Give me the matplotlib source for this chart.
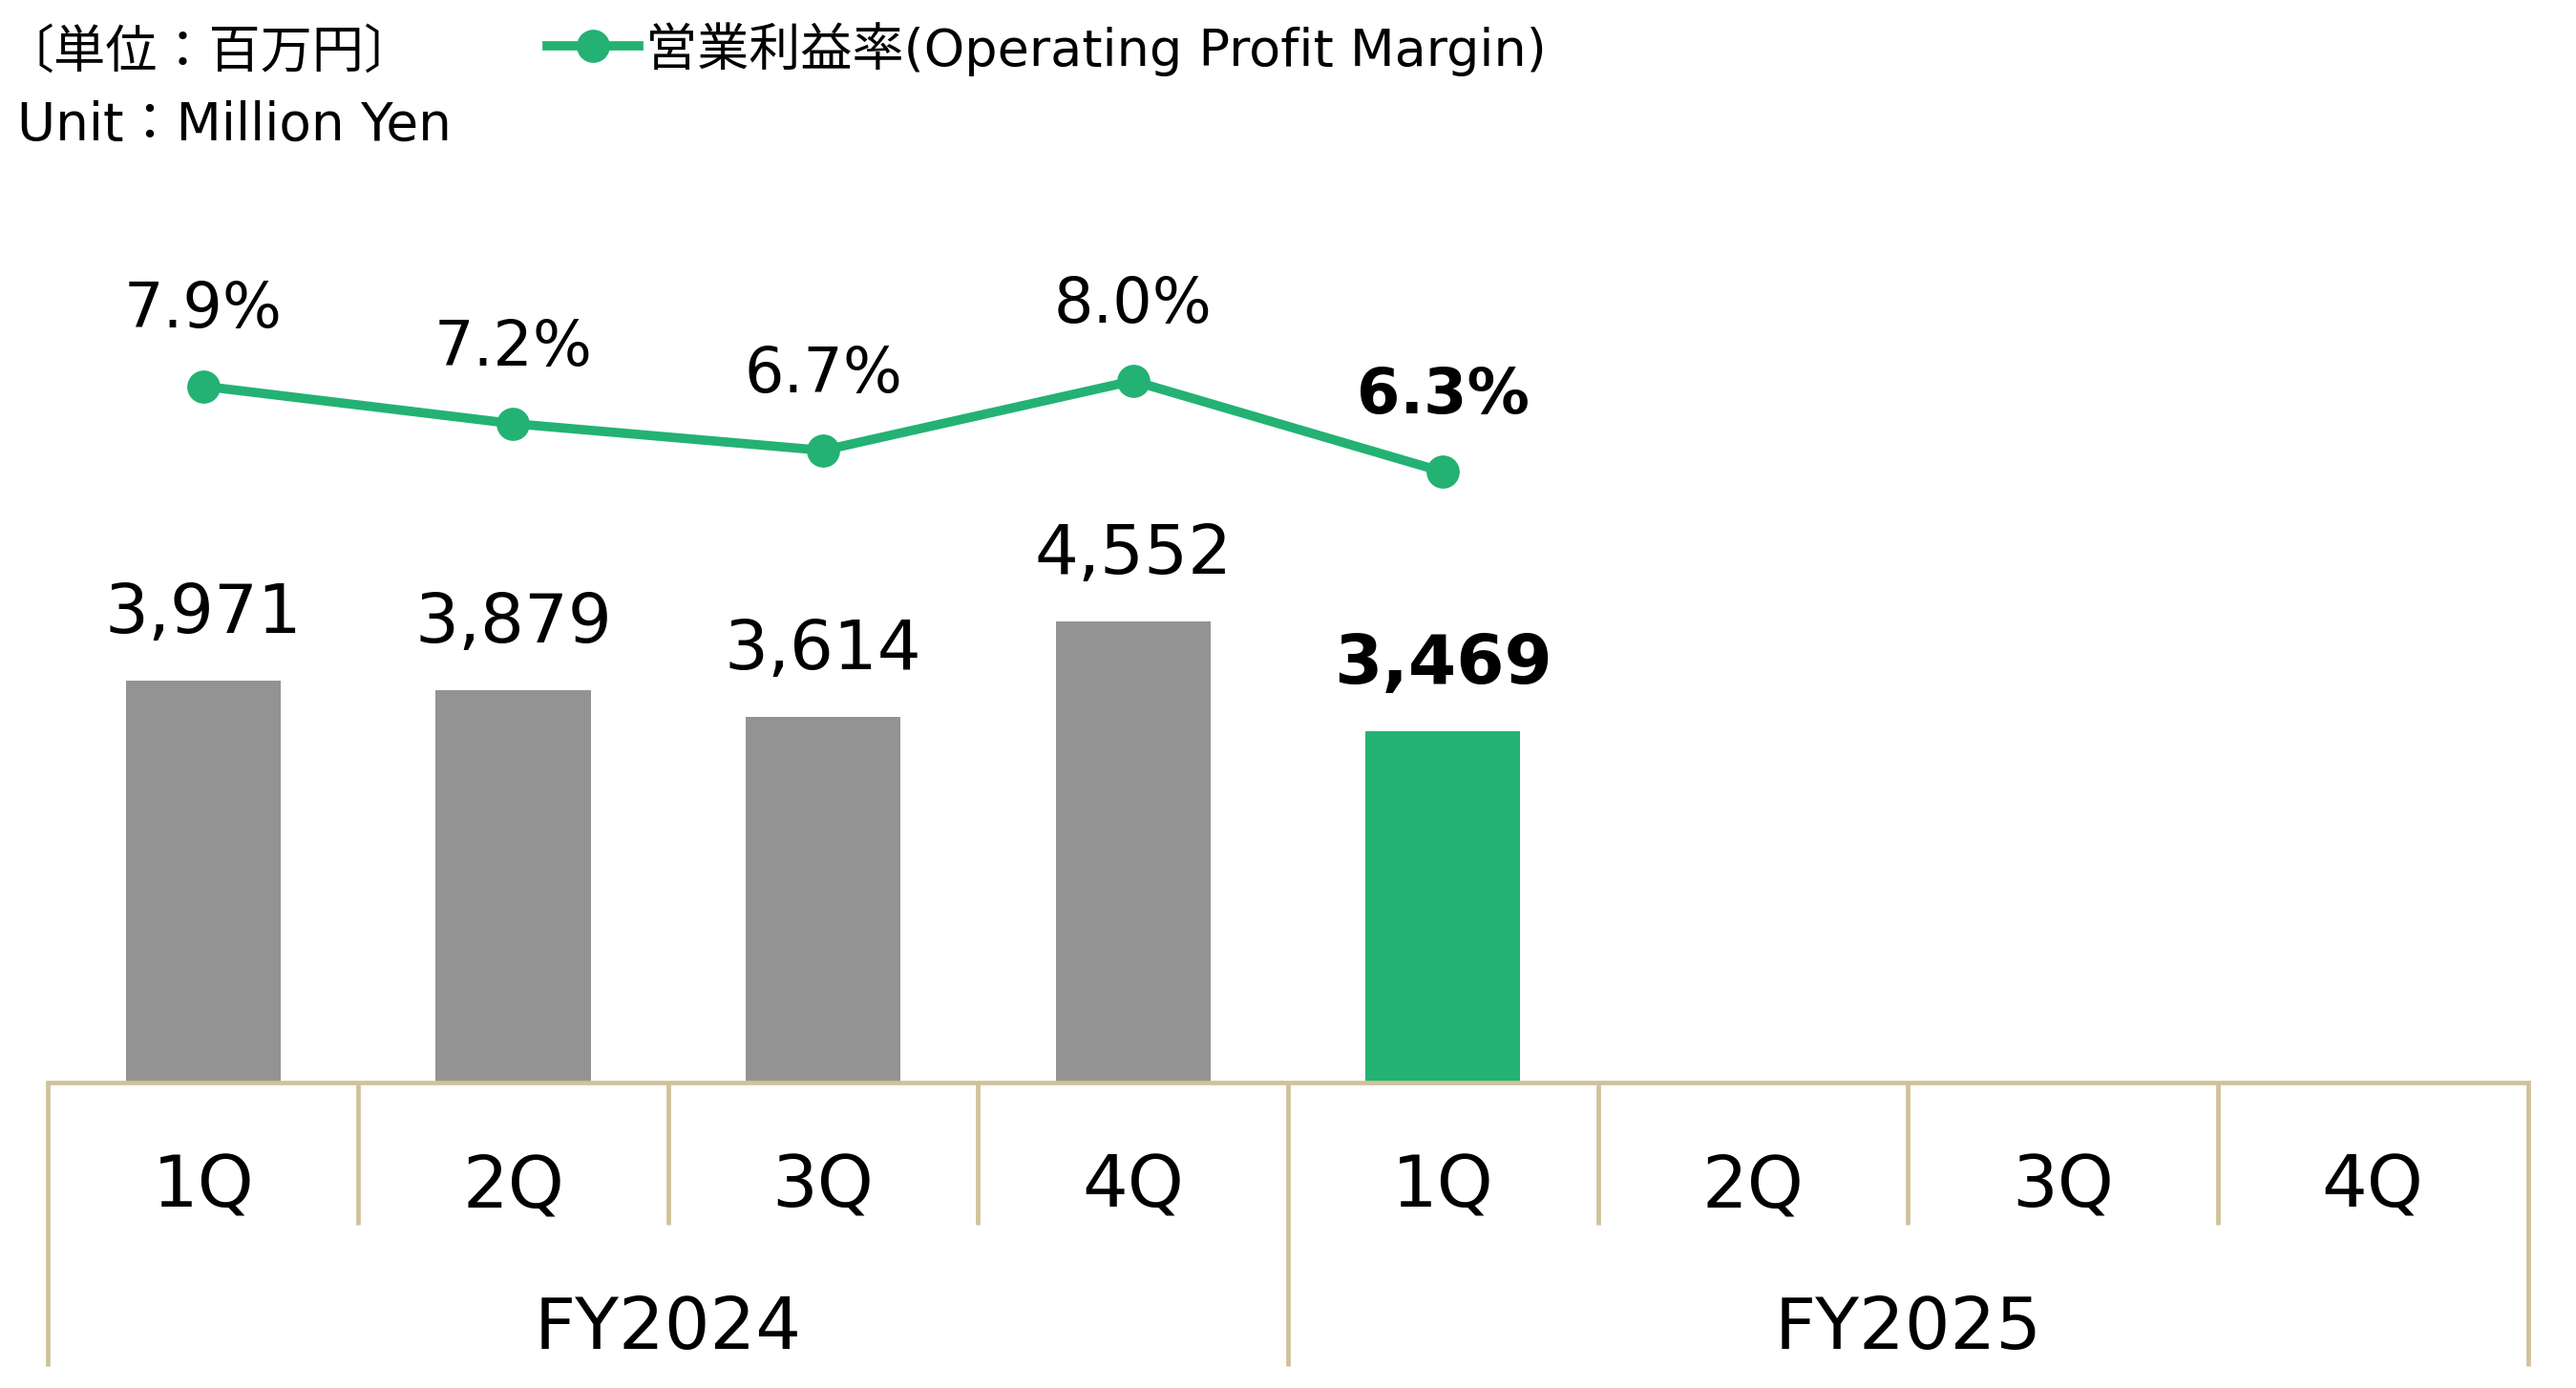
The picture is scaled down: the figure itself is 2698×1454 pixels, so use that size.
import matplotlib
matplotlib.use("Agg")
import matplotlib.pyplot as plt
from matplotlib.lines import Line2D

plt.rcParams["font.family"] = ["DejaVu Sans", "Noto Sans CJK JP"]

# data
quarters = ["1Q", "2Q", "3Q", "4Q", "1Q", "2Q", "3Q", "4Q"]
fiscal_years = ["FY2024", "FY2025"]
operating_profit = [3971, 3879, 3614, 4552, 3469]
profit_margin = [7.9, 7.2, 6.7, 8.0, 6.3]
unit_text = ["〔単位：百万円〕", "Unit：Million Yen"]
legend_label = "営業利益率(Operating Profit Margin)"

GRAY = "#939393"
GREEN = "#23B273"
TAN = "#CFC29B"

W, H = 2698, 1454
fig = plt.figure(figsize=(W / 100, H / 100), dpi=100)

# axes: bottom edge at 1134 px from the top, spanning to the top of the figure
ax_l, ax_r, ax_bot = 50.5, 2647.5, 1134
ax = fig.add_axes([ax_l / W, (H - ax_bot) / H, (ax_r - ax_l) / W, ax_bot / H])
ax.set_xlim(0, len(quarters))
ax.set_ylim(0, ax_bot / 0.106)
for side in ["top", "left", "right"]:
    ax.spines[side].set_visible(False)
ax.spines["bottom"].set_color(TAN)
ax.spines["bottom"].set_linewidth(3.4)
ax.set_xticks([])
ax.set_yticks([])

n = len(operating_profit)
xs = [i + 0.5 for i in range(n)]
colors = [GRAY] * (n - 1) + [GREEN]
ax.bar(xs, operating_profit, width=0.5, color=colors, linewidth=0, zorder=2)
for i, (x, v) in enumerate(zip(xs, operating_profit)):
    ax.annotate(f"{v:,}", (x, v), xytext=(0, 36), textcoords="offset points",
                ha="center", va="baseline", fontsize=52,
                fontweight="bold" if i == n - 1 else "normal")

# margin line on a secondary axis
ax2 = ax.twinx()
ax2.set_ylim(-5.125, 15.125)
ax2.axis("off")
ax2.plot(xs, profit_margin, color=GREEN, lw=7, marker="o", ms=24, zorder=3)
for i, (x, v) in enumerate(zip(xs, profit_margin)):
    ax2.annotate(f"{v:.1f}%", (x, v), xytext=(0, 44), textcoords="offset points",
                 ha="center", va="baseline", fontsize=47,
                 fontweight="bold" if i == n - 1 else "normal")

# category table below the axis
tr = ax.get_xaxis_transform()
short_end = -(1283 - ax_bot) / ax_bot
long_end = -(1431 - ax_bot) / ax_bot
for k in range(len(quarters) + 1):
    y_end = long_end if k % 4 == 0 else short_end
    ax.plot([k, k], [0, y_end], color=TAN, lw=3.4, transform=tr, clip_on=False,
            solid_capstyle="butt")
q_base = -(1265 - ax_bot) / ax_bot
for k, q in enumerate(quarters):
    ax.text(k + 0.5, q_base, q, transform=tr, ha="center", va="baseline", fontsize=54)
fy_base = -(1413 - ax_bot) / ax_bot
for j, fy in enumerate(fiscal_years):
    ax.text(4 * j + 2, fy_base, fy, transform=tr, ha="center", va="baseline", fontsize=54)

# unit note
fig.text(2 / W, (H - 71) / H, unit_text[0], fontsize=39, va="baseline", ha="left")
fig.text(18 / W, (H - 147) / H, unit_text[1], fontsize=39.5, va="baseline", ha="left")

# legend drawn by hand
fig.add_artist(Line2D([573 / W, 669 / W], [(H - 48) / H] * 2, color=GREEN, lw=7,
                      transform=fig.transFigure))
fig.add_artist(Line2D([621 / W], [(H - 48) / H], color=GREEN, marker="o", ms=24,
                      transform=fig.transFigure))
fig.text(676 / W, (H - 69) / H, legend_label, fontsize=39, va="baseline", ha="left")

fig.savefig("out.png", dpi=100)
